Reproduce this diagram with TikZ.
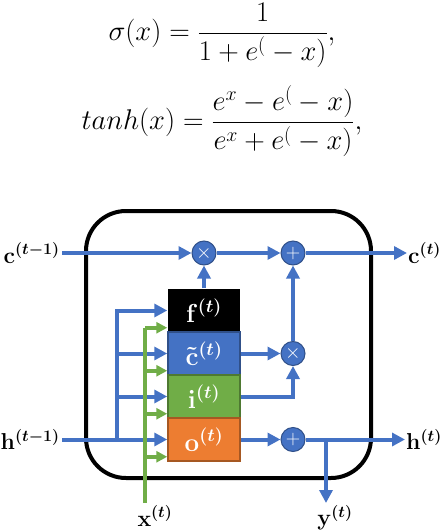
\RequirePackage{fix-cm}
\documentclass[tikz,border=0pt]{standalone}
\usepackage{amsmath}
\usetikzlibrary{arrows.meta}
\definecolor{lblue}{HTML}{4472C4}
\definecolor{lgreen}{HTML}{70AD47}
\definecolor{lorange}{HTML}{ED7D31}
\begin{document}
\begin{tikzpicture}[x=1pt,y=-1pt,
  flow/.style={draw=lblue, line width=4pt, -{Triangle[length=13pt,width=13pt]}},
  xflow/.style={draw=lgreen, line width=4pt, -{Triangle[length=11pt,width=11pt]}},
  gate/.style={minimum width=72pt, minimum height=43pt, inner sep=0pt, text=white,
    line width=1.5pt, font=\fontsize{26}{30}\selectfont\boldmath},
  op/.style={circle, fill=lblue, draw=lblue!70!black, line width=1pt, minimum size=24pt,
    inner sep=0pt, text=white, font=\fontsize{20}{20}\selectfont},
  lab/.style={font=\fontsize{23}{27}\selectfont\boldmath, inner sep=2pt},
  eq/.style={font=\fontsize{28.5}{32}\selectfont, inner sep=0pt},
  ]
\useasboundingbox (0,0) rectangle (442,532);

% formulas
\node[eq] (sig) at (222,35) {$\displaystyle \sigma(x) = \frac{1}{1+e^(-x)},$};
\node[eq] (tnh) at (222,121) {$\displaystyle tanh(x) = \frac{e^x-e^(-x)}{e^x+e^(-x)},$};

% cell
\draw[line width=4pt, rounded corners=40pt] (86,211) rectangle (371,478);

% gates
\node[gate, fill=black] (f) at (204,310.5) {$\mathbf{f}^{(t)}$};
\node[gate, fill=lblue, draw=lblue!70!black] (ct) at (204,353.5) {$\tilde{\mathbf{c}}^{(t)}$};
\node[gate, fill=lgreen, draw=lgreen!70!black] (i) at (204,396.5) {$\mathbf{i}^{(t)}$};
\node[gate, fill=lorange, draw=lorange!70!black] (o) at (204,439.5) {$\mathbf{o}^{(t)}$};

% operations
\node[op] (mulf) at (204,253) {$\times$};
\node[op] (addc) at (293,253) {$+$};
\node[op] (mulc) at (293,353.5) {$\times$};
\node[op] (addh) at (293,439.5) {$+$};

% inputs and outputs
\node[lab, anchor=east] (cprev) at (62,253) {$\mathbf{c}^{(t-1)}$};
\node[lab, anchor=west, inner sep=1pt] (cnext) at (407,253) {$\mathbf{c}^{(t)}$};
\node[lab, anchor=east] (hprev) at (62,439.5) {$\mathbf{h}^{(t-1)}$};
\node[lab, anchor=west, inner sep=1pt] (hnext) at (405,439.5) {$\mathbf{h}^{(t)}$};
\node[lab] (xt) at (155,516) {$\mathbf{x}^{(t)}$};
\node[lab] (yt) at (335,518) {$\mathbf{y}^{(t)}$};
\coordinate (hsplit) at (117,439.5);
\coordinate (ysplit) at (326,439.5);
\coordinate (yend) at (326,503);
\coordinate (xbot) at (145,503);

% cell state
\draw[flow] (cprev.east) -- (mulf.west);
\draw[flow] (mulf.east) -- (addc.west);
\draw[flow] (addc.east) -- (cnext.west);
\draw[flow] (f.north) -- (mulf.south);
\draw[flow] (ct.east) -- (mulc.west);
\draw[flow] (i.east) -| (mulc.south);
\draw[flow] (mulc.north) -- (addc.south);

% hidden state
\draw[flow] (hprev.east) -- (o.west);
\foreach \g in {f,ct,i}
  \draw[flow] (hsplit) |- (\g.west);
\draw[flow] (o.east) -- (addh.west);
\draw[flow] (addh.east) -- (hnext.west);
\draw[flow] (ysplit) -- (yend);

% input x
\foreach \g in {f,ct,i,o}
  \path ([yshift=5pt]\g.south west) coordinate (g\g);
\draw[lgreen, line width=4pt] (xbot) -- (xbot |- gf);
\foreach \g in {f,ct,i,o}
  \draw[xflow] (xbot |- g\g) -- (g\g);
\end{tikzpicture}
\end{document}
